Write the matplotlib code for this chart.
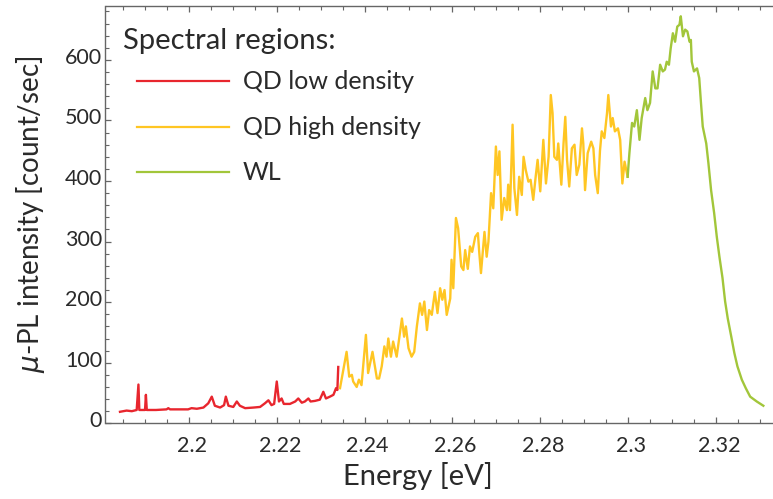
import matplotlib
matplotlib.use("Agg")
import matplotlib.pyplot as plt
import matplotlib.transforms as mtransforms
from matplotlib.lines import Line2D
import numpy as np

plt.rcParams['font.family'] = ['Lato', 'DejaVu Sans']
plt.rcParams['mathtext.fontset'] = 'dejavusans'

# ---------------- data ----------------
E_low = [2.1843, 2.1858, 2.1870, 2.1881, 2.1885, 2.1887, 2.1897, 2.1900, 2.1902, 2.1904,
         2.1925, 2.1949, 2.1953, 2.1957, 2.1980, 2.1998, 2.2006, 2.2018, 2.2033, 2.2044,
         2.2052, 2.2059, 2.2071, 2.2080, 2.2084, 2.2090, 2.2101, 2.2109, 2.2116, 2.2128,
         2.2147, 2.2162, 2.2173, 2.2181, 2.2188, 2.2194, 2.2200, 2.2205, 2.2211, 2.2216,
         2.2230, 2.2242, 2.2249, 2.2257, 2.2264, 2.2272, 2.2277, 2.2287, 2.2298, 2.2306,
         2.2312, 2.2321, 2.2329, 2.2335, 2.2338, 2.2340]
I_low = [19, 21, 20, 22, 64, 22, 22, 22, 47, 22,
         22, 23, 25, 23, 23, 23, 25, 24, 26, 33,
         44, 29, 26, 30, 44, 29, 27, 36, 29, 25,
         26, 27, 33, 38, 30, 32, 69, 36, 41, 32,
         32, 36, 41, 34, 36, 41, 36, 37, 39, 52,
         41, 44, 47, 58, 55, 93]

E_high = [2.2344, 2.2359, 2.2365, 2.2371, 2.2374, 2.2382, 2.2387, 2.2393, 2.2403, 2.2408,
          2.2418, 2.2428, 2.2433, 2.2439, 2.2445, 2.2450, 2.2454, 2.2460, 2.2465, 2.2473,
          2.2485, 2.2490, 2.2494, 2.2500, 2.2507, 2.2513, 2.2519, 2.2526, 2.2531, 2.2536,
          2.2542, 2.2547, 2.2553, 2.2560, 2.2566, 2.2572, 2.2577, 2.2582, 2.2587, 2.2595,
          2.2598, 2.2602, 2.2608, 2.2613, 2.2620, 2.2625, 2.2629, 2.2635, 2.2640, 2.2645,
          2.2652, 2.2658, 2.2661, 2.2665, 2.2673, 2.2678, 2.2682, 2.2688, 2.2693, 2.2699,
          2.2703, 2.2707, 2.2712, 2.2718, 2.2724, 2.2727, 2.2731, 2.2737, 2.2741, 2.2747,
          2.2752, 2.2758, 2.2762, 2.2767, 2.2773, 2.2778, 2.2784, 2.2790, 2.2794, 2.2800,
          2.2807, 2.2813, 2.2819, 2.2824, 2.2828, 2.2832, 2.2838, 2.2841, 2.2848, 2.2853,
          2.2857, 2.2861, 2.2866, 2.2872, 2.2878, 2.2883, 2.2889, 2.2895, 2.2898, 2.2902,
          2.2908, 2.2916, 2.2921, 2.2925, 2.2931, 2.2936, 2.2940, 2.2946, 2.2952, 2.2955,
          2.2961, 2.2965, 2.2970, 2.2977, 2.2982, 2.2987, 2.2992, 2.2999]
I_high = [58, 118, 77, 80, 69, 60, 72, 63, 146, 83,
          118, 74, 74, 94, 127, 110, 140, 110, 135, 110,
          173, 143, 160, 124, 110, 118, 160, 198, 179, 201,
          154, 187, 179, 217, 182, 223, 204, 220, 179, 206,
          270, 223, 339, 322, 259, 253, 286, 255, 292, 283,
          308, 314, 283, 248, 316, 275, 300, 380, 355, 457,
          410, 449, 336, 372, 352, 394, 352, 493, 388, 344,
          407, 377, 440, 418, 399, 402, 369, 410, 435, 383,
          468, 396, 440, 542, 512, 440, 435, 462, 394, 462,
          506, 435, 391, 454, 460, 410, 427, 487, 462, 385,
          446, 465, 454, 410, 380, 450, 482, 471, 512, 542,
          490, 504, 482, 487, 468, 396, 432, 407]

E_wl = [2.2999, 2.3003, 2.3009, 2.3014, 2.3020, 2.3026, 2.3031, 2.3039, 2.3044, 2.3050,
        2.3056, 2.3062, 2.3067, 2.3073, 2.3079, 2.3084, 2.3088, 2.3093, 2.3097, 2.3102,
        2.3107, 2.3112, 2.3117, 2.3120, 2.3125, 2.3130, 2.3135, 2.3140, 2.3143, 2.3145,
        2.3150, 2.3157, 2.3162, 2.3166, 2.3170, 2.3178, 2.3183, 2.3189, 2.3196, 2.3202,
        2.3208, 2.3215, 2.3221, 2.3227, 2.3235, 2.3242, 2.3249, 2.3259, 2.3268, 2.3278,
        2.3293, 2.3308]
I_wl = [407, 446, 496, 490, 517, 468, 504, 537, 517, 529,
        581, 553, 553, 592, 581, 584, 597, 592, 619, 644,
        630, 655, 658, 672, 639, 650, 647, 630, 633, 597,
        581, 586, 570, 529, 490, 462, 429, 385, 347, 308,
        275, 240, 201, 173, 143, 116, 94, 72, 58, 44,
        36, 29]

series_labels = ["QD low density", "QD high density", "WL"]
series_colors = ["#E8262E", "#FFC623", "#A2C63A"]
legend_title = "Spectral regions:"

x_major = [2.20, 2.22, 2.24, 2.26, 2.28, 2.30, 2.32]
x_major_labels = ["2.2", "2.22", "2.24", "2.26", "2.28", "2.3", "2.32"]
y_major = [0, 100, 200, 300, 400, 500, 600]
y_major_labels = ["0", "100", "200", "300", "400", "500", "600"]

# ---------------- figure ----------------
W, H = 773, 499
fig = plt.figure(figsize=(W / 100, H / 100), dpi=100)
ax_l, ax_r, ax_b, ax_t = 105.5, 773.0, 423.3, 6.0
ax = fig.add_axes([ax_l / W, 1 - ax_b / H, (ax_r - ax_l) / W, (ax_b - ax_t) / H])

lw = 1.7
for E, I, c in zip([E_low, E_high, E_wl], [I_low, I_high, I_wl], series_colors):
    ax.plot(E, I, color=c, lw=lw, solid_joinstyle='round', clip_on=False)

ax.set_xlim(2.1810, 2.3330)
ax.set_ylim(0, 689)

axis_color = "#666666"
for s in ['left', 'bottom', 'top']:
    ax.spines[s].set_color(axis_color)
    ax.spines[s].set_linewidth(1.0)
ax.spines['right'].set_visible(False)

ax.set_xticks(x_major)
ax.set_xticklabels(x_major_labels)
ax.set_xticks(np.arange(2.185, 2.3301, 0.005), minor=True)
ax.set_yticks(y_major)
ax.set_yticklabels(y_major_labels)
ax.set_yticks(np.arange(20, 681, 20), minor=True)

text_color = "#2a2a2a"
ax.tick_params(axis='both', which='both', direction='in', color=axis_color,
               top=True, right=False, labelsize=15.5, labelcolor=text_color)
ax.tick_params(axis='both', which='major', length=4.5, width=0.9)
ax.tick_params(axis='both', which='minor', length=2.8, width=0.8)
ax.tick_params(axis='x', which='major', pad=9.5)
ax.tick_params(axis='y', which='major', pad=2.5)

# small label offsets as in the reference
dx = mtransforms.ScaledTranslation(3 / 100, 0, fig.dpi_scale_trans)
for lab in ax.get_xticklabels():
    lab.set_transform(lab.get_transform() + dx)
dy = mtransforms.ScaledTranslation(0, 4 / 100, fig.dpi_scale_trans)
for lab in ax.get_yticklabels():
    lab.set_transform(lab.get_transform() + dy)

ax.set_xlabel("Energy [eV]", fontsize=21, color=text_color)
ax.xaxis.set_label_coords(0.468, -0.092)
ax.set_ylabel(r"$\mu$-PL intensity [count/sec]", fontsize=20, color=text_color)
ax.yaxis.set_label_coords(-0.088, 0.5)

# legend (manual, figure pixel coordinates)
def fx(px):
    return px / W

def fy(py):
    return 1 - py / H

fig.text(fx(123), fy(41), legend_title, fontsize=21, color=text_color,
         ha='left', va='center')
ys = [81, 126.5, 172]
for lab, c, yy in zip(series_labels, series_colors, ys):
    fig.add_artist(Line2D([fx(137), fx(229)], [fy(yy), fy(yy)], color=c, lw=1.6))
    fig.text(fx(243), fy(yy + 1), lab, fontsize=18, color=text_color,
             ha='left', va='center')

fig.savefig("out.png", dpi=100)
